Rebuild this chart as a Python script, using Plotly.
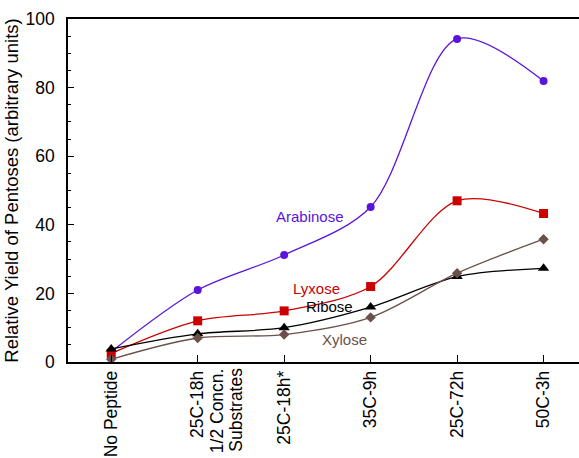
import plotly.graph_objects as go

categories = [["No Peptide"], ["25C-18h", "1/2 Concn.", "Substrates"], ["25C-18h*"], ["35C-9h"], ["25C-72h"], ["50C-3h"]]
arabinose = [3.0, 21.0, 31.2, 45.2, 94.2, 81.9]
lyxose = [2.5, 12.0, 14.9, 22.0, 47.0, 43.3]
ribose = [3.8, 8.2, 10.0, 16.0, 24.9, 27.3]
xylose = [0.8, 7.0, 8.0, 13.0, 25.9, 35.8]
yticks = [0, 20, 40, 60, 80, 100]

series = [
    ("Arabinose", arabinose, "#5b14dc", "circle", 8),
    ("Lyxose", lyxose, "#cc0000", "square", 9),
    ("Ribose", ribose, "#000000", "triangle-up", 10),
    ("Xylose", xylose, "#6b504b", "diamond", 8),
]

FONT = "Liberation Sans"
TS = 17.5
xs = list(range(len(categories)))
fig = go.Figure()
for name, vals, col, sym, sz in series:
    fig.add_trace(go.Scatter(
        x=xs, y=vals, name=name, mode="lines+markers",
        line=dict(color=col, width=1.3, shape="spline", smoothing=0.9),
        marker=dict(color=col, symbol=sym, size=sz),
        showlegend=False,
    ))

labels = [
    ("Arabinose", 2.3, 42.5, "#5b14dc"),
    ("Lyxose", 2.37, 21.5, "#cc0000"),
    ("Ribose", 2.52, 16.2, "#000000"),
    ("Xylose", 2.7, 6.5, "#6b504b"),
]
for t, x, y, c in labels:
    fig.add_annotation(x=x, y=y, text=t, showarrow=False, xref="x", yref="y",
                       font=dict(color=c, size=15, family=FONT))

# extra lines of multi-line category labels, stacked to the right of the tick
for i, lines in enumerate(categories):
    for j, line in enumerate(lines[1:], start=1):
        fig.add_annotation(x=i, y=0, xref="x", yref="paper", text=line, showarrow=False,
                           textangle=-90, xanchor="center", yanchor="top",
                           xshift=19 * j, yshift=-4,
                           font=dict(size=TS, family=FONT, color="black"))

fig.update_layout(
    width=579, height=458,
    margin=dict(l=68, r=0, t=19, b=96),
    plot_bgcolor="white", paper_bgcolor="white",
    font=dict(family=FONT, size=TS, color="black"),
    xaxis=dict(
        range=[-0.5, 5.41], tickmode="array", tickvals=xs, ticktext=[c[0] for c in categories],
        tickangle=-90, ticks="inside", ticklen=7, tickcolor="black",
        showline=True, linecolor="black", linewidth=1.5, mirror=True,
        showgrid=False, zeroline=False, tickfont=dict(size=TS), automargin=False,
    ),
    yaxis=dict(
        range=[0, 100], tickvals=yticks,
        ticks="inside", ticklen=6, tickcolor="black", ticklabelstandoff=8,
        minor=dict(dtick=5, ticks="inside", ticklen=3, tickcolor="black"),
        showline=True, linecolor="black", linewidth=1.5,
        showgrid=False, zeroline=False, tickfont=dict(size=TS), automargin=False,
        title=dict(text="Relative Yield of Pentoses (arbitrary units)", font=dict(size=18.5), standoff=2),
    ),
)

fig.write_html("out.html", config={"displayModeBar": False},
               post_script="document.body.style.margin='0';")
